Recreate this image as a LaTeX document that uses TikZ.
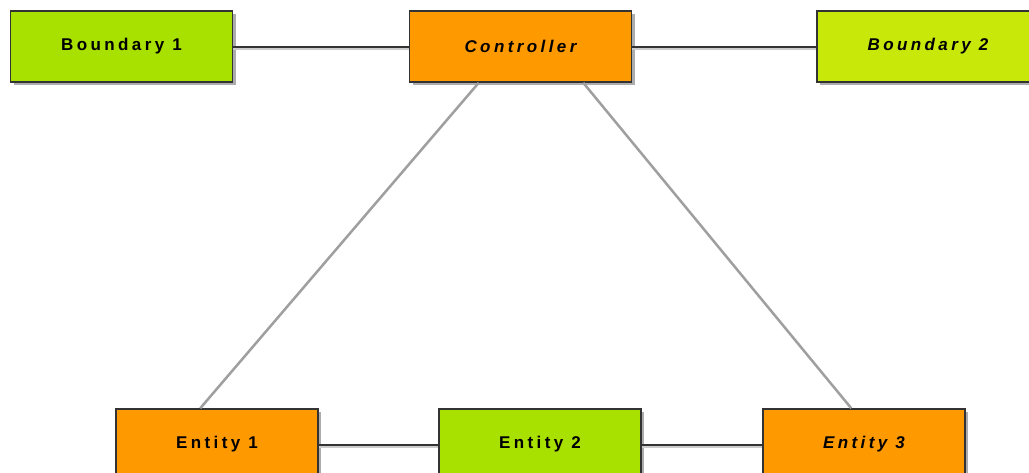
\documentclass[tikz,border=0pt]{standalone}
\usepackage{fontspec}
\setmainfont{Liberation Sans}
\newfontfamily\boxfont[LetterSpace=20]{Liberation Sans}
\usepackage{xcolor}
\usepackage{tikz}
\usetikzlibrary{positioning,shadows}
\definecolor{bndgreen}{HTML}{A8E000}
\definecolor{bndlime}{HTML}{C8E80A}
\definecolor{ctrlorange}{HTML}{FF9900}
\definecolor{edgedark}{HTML}{333333}

\begin{document}
\begin{tikzpicture}[x=1pt,y=-1pt,
  box/.style={draw=edgedark,line width=1.5pt,minimum width=222pt,minimum height=71pt,
              inner sep=0pt,align=center,font=\boxfont\fontsize{17}{20}\selectfont\bfseries,
              drop shadow={shadow xshift=3pt,shadow yshift=-3pt,fill=gray!65,opacity=1}},
  bnd/.style={box,fill=bndgreen},
  ctl/.style={box,fill=ctrlorange},
  link/.style={edgedark,line width=2pt,
               preaction={draw=gray!40,line width=2pt,transform canvas={yshift=-2pt}}},
  diag/.style={gray!75,line width=2.5pt}]
\clip (0,0) rectangle (1029,472);
\fill[white] (0,0) rectangle (1029,472);
\node[bnd] (b1) at (121.5,46.5) {Boundary 1};
\node[ctl] (ctrl) at (520.5,46.5) {\itshape Controller};
\node[bnd,fill=bndlime] (b2) at (928,46.5) {\itshape Boundary 2};
\node[ctl,minimum width=202pt] (e1) at (217,444.5) {Entity 1};
\node[bnd,minimum width=202pt] (e2) at (540,444.5) {Entity 2};
\node[ctl,minimum width=202pt] (e3) at (864,444.5) {\itshape Entity 3};
\draw[link] (b1)--(ctrl);
\draw[link] (ctrl)--(b2);
\draw[link] (e1)--(e2);
\draw[link] (e2)--(e3);
\draw[diag] ([xshift=70pt]ctrl.south west)--([xshift=85pt]e1.north west);
\draw[diag] ([xshift=-49pt]ctrl.south east)--([xshift=89pt]e3.north west);
\end{tikzpicture}
\end{document}
